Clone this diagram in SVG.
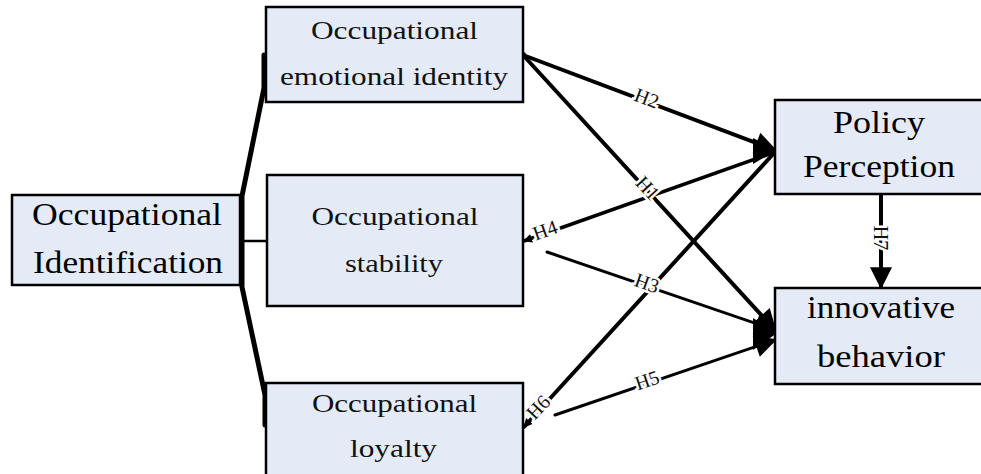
<svg xmlns="http://www.w3.org/2000/svg" width="981" height="474" viewBox="0 0 981 474">
<defs>
<style>
.box{fill:#e4ebf6;stroke:#000;stroke-width:2.5}
.t{font-family:"Liberation Serif","Times New Roman",serif;fill:#111;text-anchor:middle}
.s{font-size:25px}
.b{font-size:32px;fill:#000}
.ln{stroke:#000;fill:none;stroke-linecap:round}
.lbl{font-family:"Liberation Serif","Times New Roman",serif;font-size:20px;fill:#111;stroke:#fff;stroke-width:5;paint-order:stroke;text-anchor:middle;dominant-baseline:central}
</style>
<marker id="big" viewBox="0 0 10 10" refX="9" refY="5" markerUnits="userSpaceOnUse" markerWidth="24" markerHeight="22" orient="auto">
<path d="M0,0 L10,5 L0,10 z" fill="#000"/>
</marker>
<marker id="small" viewBox="0 0 10 10" refX="9" refY="5" markerUnits="userSpaceOnUse" markerWidth="9" markerHeight="9" orient="auto">
<path d="M0,0 L10,5 L0,10 z" fill="#000"/>
</marker>
</defs>
<rect width="981" height="474" fill="#fff"/>

<g id="connectors">
<polyline class="ln" points="264,55 264,88 242,196 242,287 265,395 265,425" stroke-width="5"/>
<line class="ln" x1="240" y1="241" x2="267" y2="241" stroke-width="2.5"/>
<line class="ln" x1="523" y1="55" x2="775" y2="150" stroke-width="4" marker-end="url(#big)"/>
<line class="ln" x1="523" y1="55" x2="775" y2="330" stroke-width="4" marker-end="url(#big)"/>
<line class="ln" x1="775" y1="152" x2="524" y2="241" stroke-width="3.5" marker-end="url(#small)"/>
<line class="ln" x1="547" y1="252" x2="775" y2="330" stroke-width="3" marker-end="url(#big)"/>
<line class="ln" x1="775" y1="152" x2="524" y2="427" stroke-width="4" marker-end="url(#small)"/>
<line class="ln" x1="555" y1="415" x2="775" y2="340" stroke-width="3" marker-end="url(#big)"/>
<path d="M753,138 L777,150 L753,164 z" fill="#000"/>
<path d="M753,318 L777,333 L753,350 z" fill="#000"/>
<line class="ln" x1="881" y1="195" x2="881" y2="287" stroke-width="4" marker-end="url(#big)"/>
<circle cx="523" cy="55" r="3" fill="#000"/>
<text class="lbl" transform="translate(647,98) rotate(20.7)">H2</text>
<text class="lbl" transform="translate(648,188) rotate(47.5)">H1</text>
<text class="lbl" transform="translate(545,230) rotate(-19.5)">H4</text>
<text class="lbl" transform="translate(647,283) rotate(19.3)">H3</text>
<text class="lbl" transform="translate(538,407) rotate(-47)">H6</text>
<text class="lbl" transform="translate(647,380) rotate(-18.8)">H5</text>
<text class="lbl" transform="translate(881,238) rotate(90)">H7</text>
</g>

<g id="node-identification">
<rect class="box" x="12" y="195" width="228" height="90"/>
<text class="t b" x="127" y="225" textLength="190" lengthAdjust="spacingAndGlyphs">Occupational</text>
<text class="t b" x="128" y="273" textLength="190" lengthAdjust="spacingAndGlyphs">Identification</text>
</g>

<g id="node-emotional">
<rect class="box" x="266" y="7" width="257" height="95"/>
<text class="t s" x="394.5" y="39" textLength="167" lengthAdjust="spacingAndGlyphs">Occupational</text>
<text class="t s" x="394" y="85" textLength="228" lengthAdjust="spacingAndGlyphs">emotional identity</text>
</g>

<g id="node-stability">
<rect class="box" x="267" y="175" width="256" height="131"/>
<text class="t s" x="395" y="225" textLength="167" lengthAdjust="spacingAndGlyphs">Occupational</text>
<text class="t s" x="394" y="272" textLength="98" lengthAdjust="spacingAndGlyphs">stability</text>
</g>

<g id="node-loyalty">
<rect class="box" x="266" y="383" width="257" height="100"/>
<text class="t s" x="394.5" y="412" textLength="165" lengthAdjust="spacingAndGlyphs">Occupational</text>
<text class="t s" x="393.5" y="457" textLength="87" lengthAdjust="spacingAndGlyphs">loyalty</text>
</g>

<g id="node-policy">
<rect class="box" x="775" y="100" width="215" height="94"/>
<text class="t b" x="879" y="133" textLength="92" lengthAdjust="spacingAndGlyphs">Policy</text>
<text class="t b" x="879" y="177" textLength="152" lengthAdjust="spacingAndGlyphs">Perception</text>
</g>

<g id="node-innovative">
<rect class="box" x="775" y="288" width="215" height="96"/>
<text class="t b" x="881" y="318" textLength="148" lengthAdjust="spacingAndGlyphs">innovative</text>
<text class="t b" x="881" y="367" textLength="128" lengthAdjust="spacingAndGlyphs">behavior</text>
</g>
</svg>
